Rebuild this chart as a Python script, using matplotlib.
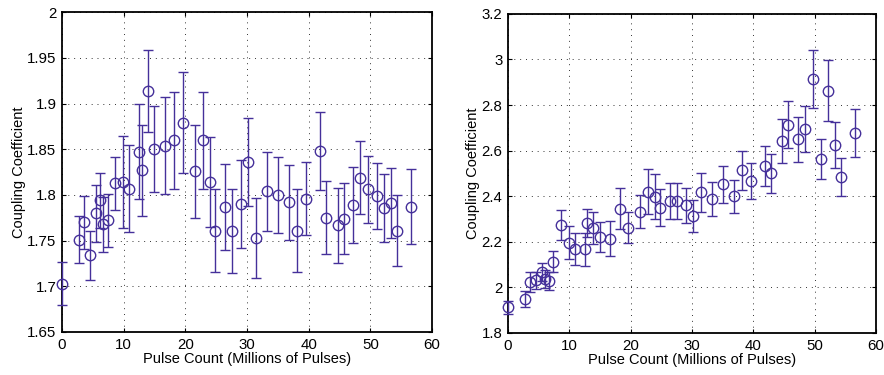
import matplotlib
matplotlib.use('Agg')
import matplotlib.pyplot as plt
import numpy as np

# pulse count (millions), same sample points for both panels
pulses = [0, 2.7, 3.6, 4.6, 5.5, 6.1, 6.6, 7.4, 8.6, 9.95, 10.9, 12.5, 12.9, 13.9,
          15.0, 16.65, 18.2, 19.6, 21.55, 22.85, 24.0, 24.8, 26.4, 27.55, 29.0,
          30.1, 31.45, 33.3, 35.0, 36.85, 38.1, 39.55, 41.9, 42.85, 44.7, 45.7,
          47.25, 48.4, 49.7, 51.0, 52.2, 53.35, 54.35, 56.55]

# left panel
coef_a = [1.703, 1.751, 1.770, 1.734, 1.780, 1.794, 1.768, 1.772, 1.813, 1.814,
          1.807, 1.847, 1.827, 1.914, 1.850, 1.854, 1.860, 1.879, 1.826, 1.860,
          1.814, 1.761, 1.787, 1.761, 1.790, 1.836, 1.753, 1.804, 1.800, 1.792,
          1.761, 1.796, 1.848, 1.775, 1.767, 1.774, 1.789, 1.819, 1.806, 1.799,
          1.786, 1.791, 1.761, 1.787]
err_a = [0.024, 0.026, 0.029, 0.027, 0.031, 0.030, 0.030, 0.029, 0.029, 0.050,
         0.048, 0.052, 0.050, 0.045, 0.047, 0.053, 0.053, 0.055, 0.051, 0.053,
         0.049, 0.045, 0.047, 0.046, 0.048, 0.048, 0.044, 0.043, 0.042, 0.041,
         0.045, 0.040, 0.043, 0.040, 0.041, 0.039, 0.042, 0.040, 0.037, 0.036,
         0.037, 0.038, 0.039, 0.041]

# right panel
coef_b = [1.912, 1.948, 2.024, 2.031, 2.068, 2.036, 2.028, 2.113, 2.274, 2.196,
          2.167, 2.167, 2.284, 2.259, 2.221, 2.214, 2.345, 2.262, 2.332, 2.420,
          2.398, 2.350, 2.379, 2.379, 2.361, 2.313, 2.418, 2.389, 2.452, 2.400,
          2.513, 2.466, 2.532, 2.500, 2.641, 2.714, 2.649, 2.695, 2.914, 2.564,
          2.863, 2.624, 2.485, 2.678]
err_b = [0.030, 0.036, 0.042, 0.038, 0.040, 0.040, 0.040, 0.047, 0.065, 0.073,
         0.070, 0.072, 0.062, 0.070, 0.066, 0.077, 0.090, 0.068, 0.073, 0.098,
         0.098, 0.080, 0.077, 0.077, 0.077, 0.070, 0.085, 0.075, 0.080, 0.073,
         0.085, 0.080, 0.088, 0.085, 0.096, 0.103, 0.097, 0.100, 0.129, 0.089,
         0.133, 0.102, 0.084, 0.105]

xticks = [0, 10, 20, 30, 40, 50, 60]
yticks_a = [1.65, 1.7, 1.75, 1.8, 1.85, 1.9, 1.95, 2.0]
ylabels_a = ['1.65', '1.7', '1.75', '1.8', '1.85', '1.9', '1.95', '2']
yticks_b = [1.8, 2.0, 2.2, 2.4, 2.6, 2.8, 3.0, 3.2]
ylabels_b = ['1.8', '2', '2.2', '2.4', '2.6', '2.8', '3', '3.2']

plt.rcParams['font.family'] = ['Liberation Sans', 'DejaVu Sans']
col = '#45309a'

fig = plt.figure(figsize=(8.84, 3.75), dpi=100)
ax1 = fig.add_axes([0.0701, 0.1147, 0.4186, 0.853])
ax2 = fig.add_axes([0.5747, 0.112, 0.4163, 0.851])

def draw(ax, y, e, yt, yl):
    ax.errorbar(pulses, y, yerr=e, fmt='o', color=col, mfc='none', mec=col,
                markersize=7.5, mew=1.0, elinewidth=1.0, capsize=3.5, capthick=1.0,
                ecolor=col, clip_on=False, zorder=3)
    ax.set_xlim(0, 60)
    ax.set_ylim(yt[0], yt[-1])
    ax.set_xticks(xticks)
    ax.set_yticks(yt)
    ax.set_yticklabels(yl)
    ax.grid(True, linestyle=(0, (1, 5)), color='#333333', linewidth=0.7)
    ax.tick_params(direction='in', top=True, right=True, length=3,
                   labelsize=10.8, width=0.8, pad=4)
    for s in ax.spines.values():
        s.set_linewidth(1.3)
    ax.set_xlabel('Pulse Count (Millions of Pulses)', fontsize=10.5, labelpad=0)
    ax.set_ylabel('Coupling Coefficient', fontsize=10.5, labelpad=1)

draw(ax1, coef_a, err_a, yticks_a, ylabels_a)
draw(ax2, coef_b, err_b, yticks_b, ylabels_b)

fig.savefig('out.png', dpi=100)
